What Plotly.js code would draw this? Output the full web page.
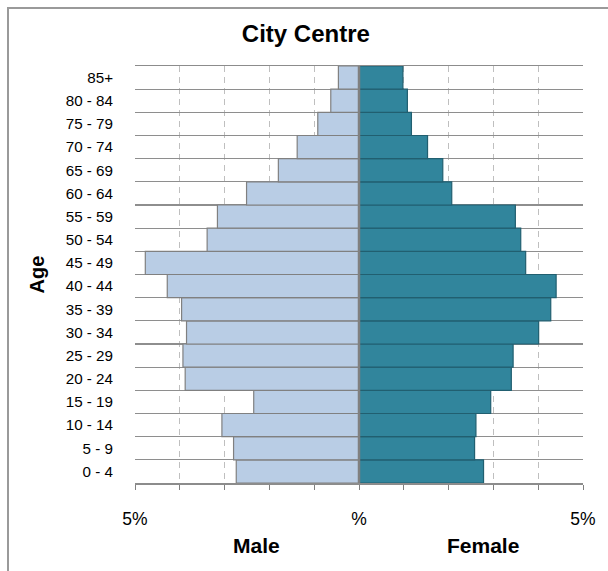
<!DOCTYPE html>
<html>
<head>
<meta charset="utf-8">
<script src="https://cdn.plot.ly/plotly-3.0.1.min.js"></script>
<style>
html,body{margin:0;padding:0;background:#fff;}
#wrap{position:relative;width:608px;height:571px;overflow:hidden;}
#frame{position:absolute;left:7px;top:7px;width:640px;height:640px;border-left:2px solid #9a9a9a;border-top:2px solid #9a9a9a;box-sizing:border-box;}
#chart{position:absolute;left:0;top:0;width:608px;height:571px;}
</style>
</head>
<body>
<div id="wrap"><div id="frame"></div><div id="chart"></div></div>
<script>
const ageGroups = ["0 - 4","5 - 9","10 - 14","15 - 19","20 - 24","25 - 29","30 - 34","35 - 39","40 - 44","45 - 49","50 - 54","55 - 59","60 - 64","65 - 69","70 - 74","75 - 79","80 - 84","85+"];
const malePct   = [2.74,2.80,3.06,2.35,3.88,3.93,3.85,3.96,4.28,4.77,3.39,3.16,2.51,1.80,1.38,0.92,0.63,0.46];
const femalePct = [2.78,2.58,2.61,2.94,3.40,3.44,4.01,4.28,4.40,3.72,3.61,3.49,2.07,1.87,1.53,1.17,1.08,0.98];
const xTickVals = [-5,-4,-3,-2,-1,0,1,2,3,4,5];
const xTickText = ["5%","","","","","%","","","","","5%"];

const font = "Liberation Sans, Arial, sans-serif";

const traces = [
  {type:"bar", orientation:"h", name:"Male", y:ageGroups, x:malePct.map(v=>-v),
   marker:{color:"#B9CDE5", line:{color:"#808080", width:1.2}}, hoverinfo:"skip"},
  {type:"bar", orientation:"h", name:"Female", y:ageGroups, x:femalePct,
   marker:{color:"#31859C", line:{color:"#215F70", width:1.2}}, hoverinfo:"skip"}
];

const layout = {
  width:608, height:571,
  margin:{l:135, r:25, t:66, b:88},
  paper_bgcolor:"rgba(0,0,0,0)", plot_bgcolor:"rgba(0,0,0,0)",
  barmode:"overlay", bargap:0, showlegend:false,
  font:{family:font, size:15, color:"#000"},
  title:{text:"<b>City Centre</b>", x:0.503, xanchor:"center", y:0.942, yanchor:"middle",
         font:{family:font, size:24, color:"#000"}},
  xaxis:{range:[-5,5], tickvals:xTickVals, ticktext:xTickText, ticks:"outside", ticklen:5,
         tickcolor:"#808080", tickwidth:1, showgrid:true, gridcolor:"#BFBFBF", griddash:"6px,5px",
         gridwidth:1, zeroline:false, showline:true, linecolor:"#8C8C8C", linewidth:1.5,
         mirror:true, ticklabelstandoff:14, tickfont:{family:font, size:17.5, color:"#000"},
         fixedrange:true},
  yaxis:{type:"category", categoryorder:"array", categoryarray:ageGroups, range:[-0.5,17.5],
         tickson:"boundaries", ticks:"", showgrid:true, gridcolor:"#8E8E8E", gridwidth:1.3,
         showline:false, zeroline:false, ticklabelstandoff:21,
         tickfont:{family:font, size:15.2, color:"#000"},
         title:{text:"<b>Age</b>", standoff:15, font:{family:font, size:20, color:"#000"}},
         fixedrange:true},
  shapes:[{type:"line", xref:"x", yref:"paper", x0:0, x1:0, y0:0, y1:1,
           line:{color:"#808080", width:2.5}, layer:"above"}],
  annotations:[
    {text:"<b>Male</b>", xref:"paper", yref:"paper", x:0.272, y:-0.149, showarrow:false,
     xanchor:"center", yanchor:"middle", font:{family:font, size:21, color:"#000"}},
    {text:"<b>Female</b>", xref:"paper", yref:"paper", x:0.777, y:-0.149, showarrow:false,
     xanchor:"center", yanchor:"middle", font:{family:font, size:21, color:"#000"}}
  ]
};

Plotly.newPlot("chart", traces, layout, {displayModeBar:false, staticPlot:true});
</script>
</body>
</html>
